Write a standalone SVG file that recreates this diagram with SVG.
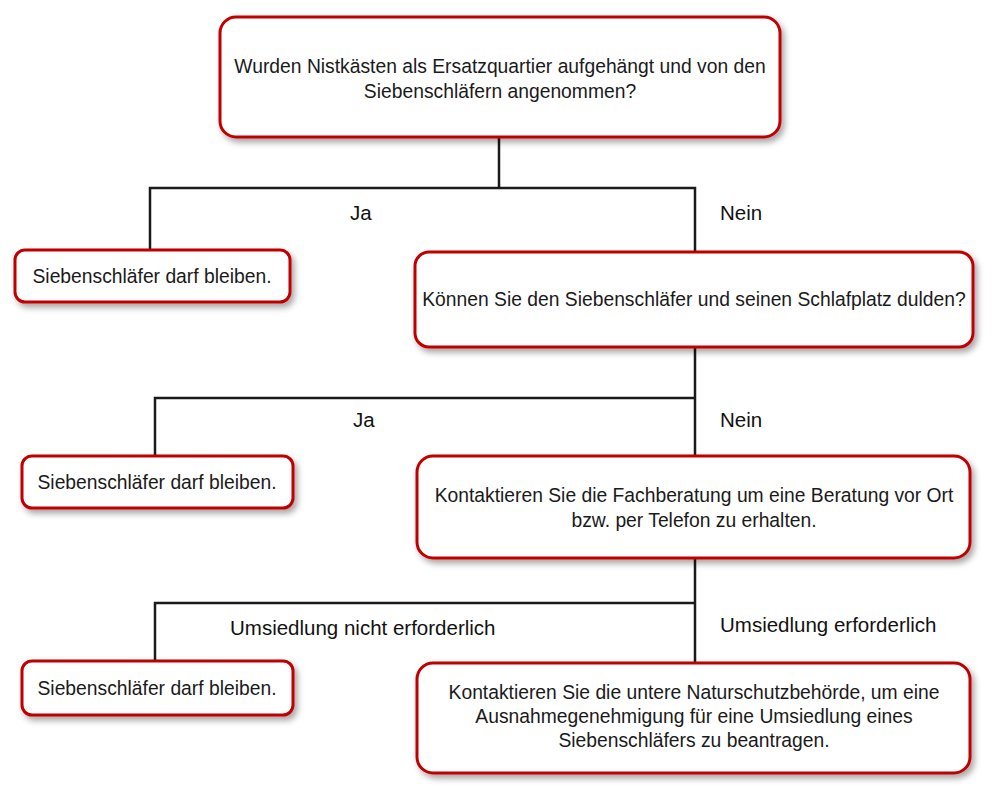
<svg xmlns="http://www.w3.org/2000/svg" width="1000" height="800" viewBox="0 0 1000 800">
<defs>
<filter id="sh" x="-10%" y="-20%" width="130%" height="150%">
<feDropShadow dx="3" dy="4" stdDeviation="3" flood-color="#000" flood-opacity="0.35"/>
</filter>
<style>
.box{fill:#fff;stroke:#c00000;stroke-width:3;filter:url(#sh)}
.t{font-family:"Liberation Sans","Open Sans",sans-serif;font-size:19.3px;fill:#1a1a1a;text-anchor:middle}
.lbl{font-family:"Liberation Sans",Arial,sans-serif;font-size:20.5px;fill:#111}
.c{fill:none;stroke:#1a1a1a;stroke-width:2.5}
</style>
</defs>
<rect width="1000" height="800" fill="#fff"/>
<g id="connectors">
<path class="c" d="M499 137 V188 M150 250 V188 H695 V252"/>
<path class="c" d="M695 347 V398 M155 456 V398 H695 V456"/>
<path class="c" d="M695 558 V603 M155 660 V603 H695 V663"/>
</g>
<g id="labels">
<text class="lbl" x="350" y="220">Ja</text>
<text class="lbl" x="720" y="220">Nein</text>
<text class="lbl" x="353" y="427">Ja</text>
<text class="lbl" x="720" y="427">Nein</text>
<text class="lbl" x="230" y="635">Umsiedlung nicht erforderlich</text>
<text class="lbl" x="720" y="632">Umsiedlung erforderlich</text>
</g>
<g id="n1">
<rect class="box" x="220" y="17" width="560" height="120" rx="16"/>
<text class="t" x="500" y="73">Wurden Nistkästen als Ersatzquartier aufgehängt und von den</text>
<text class="t" x="500" y="98">Siebenschläfern angenommen?</text>
</g>
<g id="n2">
<rect class="box" x="15" y="250" width="275" height="52" rx="10"/>
<text class="t" x="152" y="283">Siebenschläfer darf bleiben.</text>
</g>
<g id="n3">
<rect class="box" x="415" y="252" width="558" height="95" rx="14"/>
<text class="t" x="694" y="306">Können Sie den Siebenschläfer und seinen Schlafplatz dulden?</text>
</g>
<g id="n4">
<rect class="box" x="22" y="456" width="271" height="52" rx="10"/>
<text class="t" x="157" y="489">Siebenschläfer darf bleiben.</text>
</g>
<g id="n5">
<rect class="box" x="417" y="456" width="553" height="102" rx="16"/>
<text class="t" x="694" y="502">Kontaktieren Sie die Fachberatung um eine Beratung vor Ort</text>
<text class="t" x="694" y="527">bzw. per Telefon zu erhalten.</text>
</g>
<g id="n6">
<rect class="box" x="22" y="661" width="271" height="54" rx="10"/>
<text class="t" x="157" y="695">Siebenschläfer darf bleiben.</text>
</g>
<g id="n7">
<rect class="box" x="417" y="663" width="553" height="110" rx="16"/>
<text class="t" x="694" y="699">Kontaktieren Sie die untere Naturschutzbehörde, um eine</text>
<text class="t" x="694" y="723">Ausnahmegenehmigung für eine Umsiedlung eines</text>
<text class="t" x="694" y="747">Siebenschläfers zu beantragen.</text>
</g>
</svg>
